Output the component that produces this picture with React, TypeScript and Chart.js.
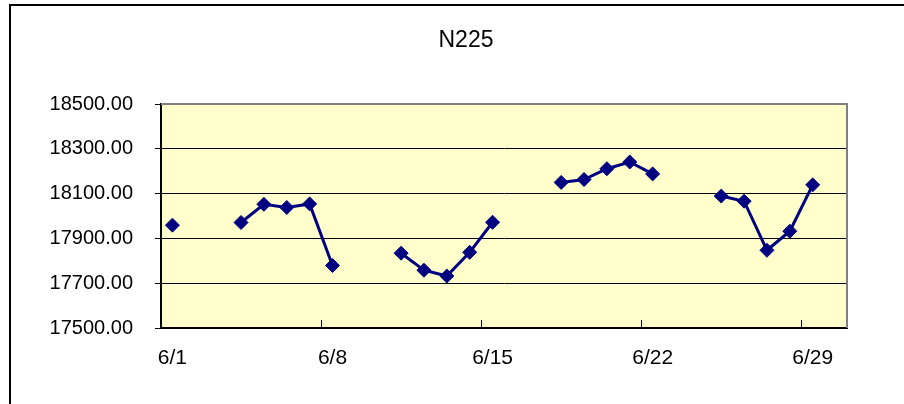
import React, { useEffect, useRef } from "react";
import { Chart, registerables } from "chart.js";

Chart.register(...registerables);

const chartTitle = "N225";
const dayLabels = [
  "6/1", "6/2", "6/3", "6/4", "6/5", "6/6", "6/7", "6/8", "6/9", "6/10",
  "6/11", "6/12", "6/13", "6/14", "6/15", "6/16", "6/17", "6/18", "6/19", "6/20",
  "6/21", "6/22", "6/23", "6/24", "6/25", "6/26", "6/27", "6/28", "6/29", "6/30",
];
const n225Values: (number | null)[] = [
  17959, null, null, 17971, 18052, 18038, 18054, 17779, null, null,
  17834, 17758, 17732, 17838, 17972, null, null, 18150, 18163, 18211,
  18241, 18188, null, null, 18089, 18066, 17847, 17932, 18139, null,
];
const shownTickLabels = ["6/1", "6/8", "6/15", "6/22", "6/29"];
const yMin = 17500;
const yMax = 18500;
const yStep = 200;

const FONT = "'Liberation Sans', Arial, sans-serif";

const plotDecor = {
  id: "plotDecor",
  beforeDraw(chart: any) {
    const { ctx, chartArea } = chart;
    ctx.save();
    ctx.fillStyle = "#FFFFCC";
    ctx.fillRect(chartArea.left, chartArea.top, chartArea.right - chartArea.left, chartArea.bottom - chartArea.top);
    ctx.restore();
  },
  afterDraw(chart: any) {
    const { ctx, chartArea } = chart;
    const xs = chart.scales.x;
    ctx.save();
    // chart title centred on the whole chart box
    ctx.fillStyle = "#000000";
    ctx.font = `23px ${FONT}`;
    ctx.textAlign = "center";
    ctx.textBaseline = "middle";
    ctx.fillText(chartTitle, chart.width / 2, 35);
    // gray top and right border
    ctx.strokeStyle = "#808080";
    ctx.lineWidth = 2;
    ctx.beginPath();
    ctx.moveTo(chartArea.left, chartArea.top);
    ctx.lineTo(chartArea.right, chartArea.top);
    ctx.lineTo(chartArea.right, chartArea.bottom);
    ctx.stroke();
    // inward tick marks at category boundaries of shown labels
    ctx.strokeStyle = "#000000";
    ctx.lineWidth = 1;
    dayLabels.forEach((lab, i) => {
      if (i > 0 && shownTickLabels.includes(lab)) {
        const px = Math.round((xs.getPixelForValue(i - 1) + xs.getPixelForValue(i)) / 2) + 0.5;
        ctx.beginPath();
        ctx.moveTo(px, chartArea.bottom);
        ctx.lineTo(px, chartArea.bottom - 8);
        ctx.stroke();
      }
    });
    ctx.restore();
  },
};

export default function App() {
  const ref = useRef<HTMLCanvasElement | null>(null);

  useEffect(() => {
    if (!ref.current) return;
    const chart = new Chart(ref.current, {
      type: "line",
      data: {
        labels: dayLabels,
        datasets: [
          {
            label: chartTitle,
            data: n225Values,
            borderColor: "#000080",
            backgroundColor: "#000080",
            borderWidth: 3,
            pointStyle: "rectRot",
            pointRadius: 7,
            pointHoverRadius: 7,
            pointBackgroundColor: "#000080",
            pointBorderColor: "#000080",
            pointBorderWidth: 1,
            spanGaps: false,
            tension: 0,
          },
        ],
      },
      options: {
        responsive: false,
        animation: false,
        layout: { padding: { left: 0, right: 74, top: 98, bottom: 0 } },
        plugins: {
          legend: { display: false },
          tooltip: { enabled: false },
          title: { display: false },
        },
        scales: {
          x: {
            type: "category",
            offset: true,
            grid: { display: false, drawTicks: false },
            border: { display: true, color: "#000000", width: 2 },
            ticks: {
              autoSkip: false,
              maxRotation: 0,
              minRotation: 0,
              padding: 18,
              color: "#000000",
              font: { family: FONT, size: 21 },
              callback: (_v: any, i: number) =>
                shownTickLabels.includes(dayLabels[i]) ? dayLabels[i] : "",
            },
            afterFit: (scale: any) => {
              scale.height = 98;
            },
          },
          y: {
            min: yMin,
            max: yMax,
            grid: { color: "#000000", lineWidth: 1, drawTicks: true, tickLength: 6 },
            border: { display: true, color: "#000000", width: 2 },
            ticks: {
              stepSize: yStep,
              padding: 22,
              color: "#000000",
              font: { family: FONT, size: 20 },
              callback: (v: any) => Number(v).toFixed(2),
            },
            afterFit: (scale: any) => {
              scale.width = 150;
            },
          },
        },
      },
      plugins: [plotDecor],
    });
    return () => chart.destroy();
  }, []);

  return (
    <div
      style={{
        position: "fixed",
        left: 0,
        top: 0,
        width: 904,
        height: 404,
        overflow: "hidden",
        background: "#ffffff",
      }}
    >
      <div
        style={{
          position: "absolute",
          left: 9,
          top: 4,
          width: 912,
          height: 422,
          boxSizing: "border-box",
          borderLeft: "2px solid #000000",
          borderTop: "2px solid #000000",
        }}
      >
        <canvas ref={ref} width={910} height={420} style={{ display: "block", width: 910, height: 420 }} />
      </div>
    </div>
  );
}
